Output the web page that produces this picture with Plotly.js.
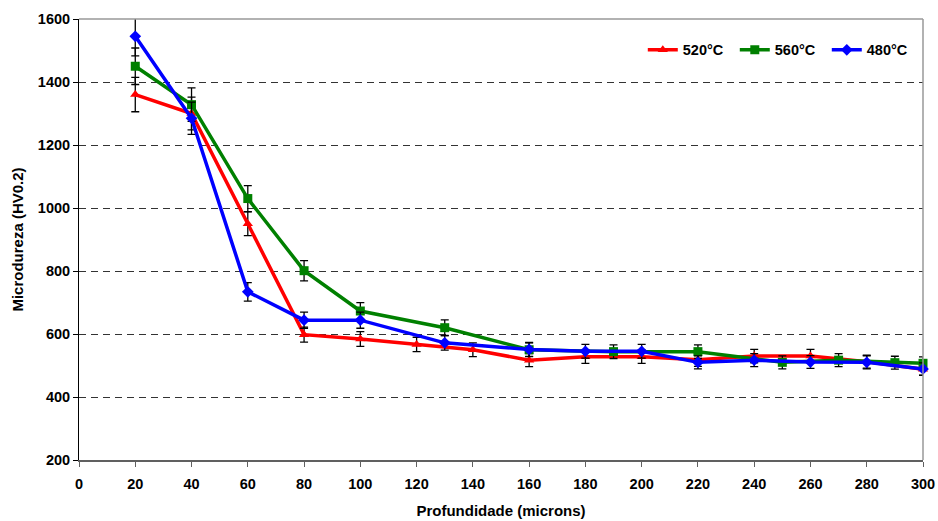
<!DOCTYPE html>
<html>
<head>
<meta charset="utf-8">
<script src="https://cdn.plot.ly/plotly-3.0.1.min.js"></script>
<style>html,body{margin:0;padding:0;background:#fff;}#chart{width:938px;height:521px;}</style>
</head>
<body>
<div id="chart"></div>
<script>
// Series: 520°C (red)
const x520 = [20, 40, 60, 80, 100, 120, 140, 160, 180, 200, 220, 240, 260, 280, 300];
const y520 = [1360, 1300, 950, 598, 584, 567, 550, 517, 528, 528, 518, 530, 530, 512, 488];
// Series: 560°C (green)
const x560 = [20, 40, 60, 80, 100, 130, 160, 190, 220, 250, 270, 290, 300];
const y560 = [1450, 1328, 1030, 801, 673, 620, 550, 544, 544, 510, 517, 509, 507];
// Series: 480°C (blue)
const x480 = [20, 40, 60, 80, 100, 130, 160, 180, 200, 220, 240, 260, 280, 300];
const y480 = [1545, 1285, 734, 644, 644, 572, 551, 545, 545, 510, 517, 511, 510, 489];
// error bars: ~4 % of the value
const errPct = 4;

const names = ['520°C', '560°C', '480°C'];
const colors = ['#ff0000', '#008000', '#0000ff'];
const symbols = ['triangle-up', 'square', 'diamond'];
const xs = [x520, x560, x480];
const ys = [y520, y560, y480];

const traces = xs.map((xv, i) => ({
  x: xv, y: ys[i], name: names[i], type: 'scatter', mode: 'lines+markers',
  cliponaxis: false,
  line: {color: colors[i], width: 3.5},
  marker: {color: colors[i], symbol: symbols[i], size: 9},
  error_y: {type: 'percent', value: errPct, color: '#000', thickness: 1.3, width: 4}
}));

const FAM = 'Liberation Sans, Arial, sans-serif';
const layout = {
  width: 938, height: 521,
  margin: {l: 79, r: 15, t: 19, b: 61},
  paper_bgcolor: '#fff', plot_bgcolor: '#fff',
  font: {family: FAM, size: 12, color: '#000'},
  showlegend: true,
  legend: {orientation: 'h', x: 0.668, xanchor: 'left', y: 0.93, yanchor: 'middle',
           font: {family: FAM, size: 14.5, color: '#000', weight: 'bold'},
           bgcolor: 'rgba(0,0,0,0)', entrywidth: 47, entrywidthmode: 'pixels', traceorder: 'normal'},
  xaxis: {
    range: [0, 300], tickmode: 'linear', tick0: 0, dtick: 20,
    showgrid: false, zeroline: false,
    showline: true, linecolor: '#606060', linewidth: 2, mirror: false,
    ticks: 'outside', ticklen: 5, tickcolor: '#606060', tickwidth: 1,
    ticklabelstandoff: 5,
    tickfont: {family: FAM, size: 14.5, weight: 'bold'},
    title: {text: 'Profundidade (microns)', font: {family: FAM, size: 15, weight: 'bold'}, standoff: 14}
  },
  yaxis: {
    range: [200, 1600], tickmode: 'linear', tick0: 200, dtick: 200,
    showgrid: true, gridcolor: '#333', griddash: '7px,5px', gridwidth: 1,
    zeroline: false,
    showline: true, linecolor: '#000', linewidth: 1,
    ticks: 'outside', ticklen: 5, tickcolor: '#000',
    tickfont: {family: FAM, size: 14.5, weight: 'bold'},
    title: {text: 'Microdureza (HV0.2)', font: {family: FAM, size: 15, weight: 'bold'}, standoff: 10}
  },
  shapes: [
    {type: 'line', xref: 'paper', yref: 'paper', x0: 0, x1: 1, y0: 1, y1: 1, line: {color: '#999', width: 1.5}},
    {type: 'line', xref: 'paper', yref: 'paper', x0: 1, x1: 1, y0: 0, y1: 1, line: {color: '#999', width: 1.5}}
  ]
};
Plotly.newPlot('chart', traces, layout, {displayModeBar: false, staticPlot: true});
</script>
</body>
</html>
